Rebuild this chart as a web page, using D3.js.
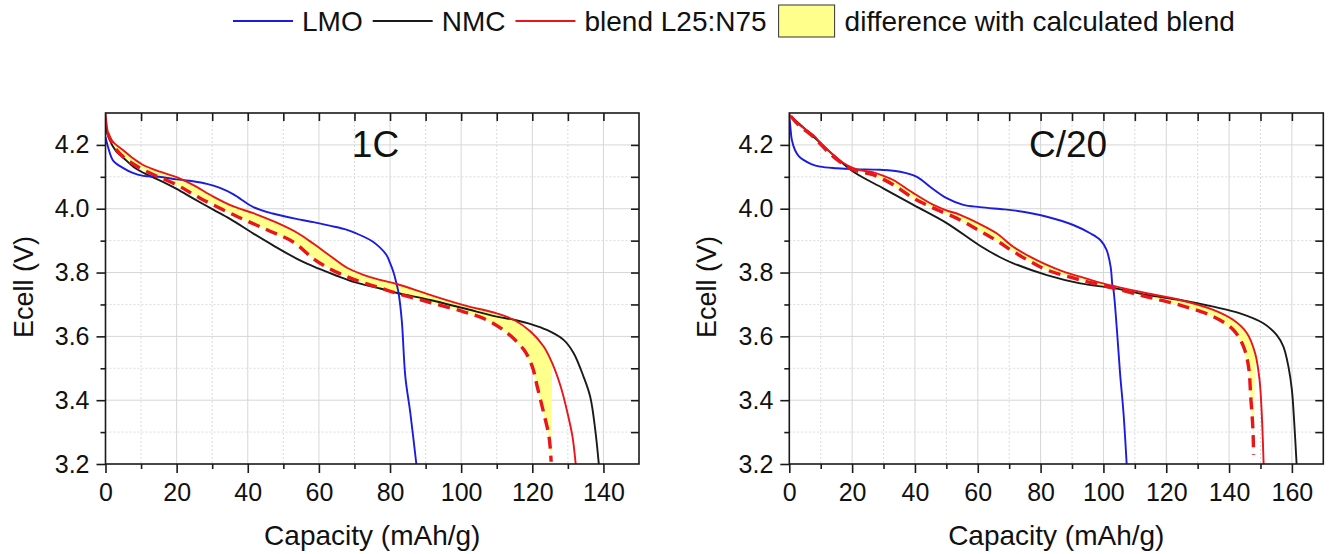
<!DOCTYPE html>
<html>
<head>
<meta charset="utf-8">
<script src="https://cdn.jsdelivr.net/npm/d3@7"></script>
<style>
  body { margin: 0; background: #fff; }
  svg { font-family: "Liberation Sans", Arial, sans-serif; }
</style>
</head>
<body>
<div id="chart"></div>
<script>
/* Discharge curves LMO / NMC / blend, 1C and C/20 */

// ---- data: [capacity (mAh/g), Ecell (V)] ----
const lmo1C = [[0,4.225],[0.8,4.19],[2.2,4.15],[4.9,4.128],[7.5,4.113],[10.6,4.103],[15,4.1],[20,4.092],[24.6,4.086],[28.5,4.078],[32,4.066],[36,4.045],[41.6,4.005],[47,3.985],[54.7,3.966],[58.5,3.958],[63,3.947],[67.9,3.934],[72.5,3.913],[75,3.898],[77.2,3.878],[79,3.855],[80,3.83],[81,3.8],[81.6,3.775],[82.4,3.736],[83.3,3.65],[84.3,3.474],[85.7,3.36],[87.4,3.2]];
const nmc1C = [[0,4.26],[1,4.22],[3,4.18],[5,4.16],[8,4.13],[12,4.105],[16,4.085],[20,4.062],[25,4.03],[30.3,3.997],[35,3.968],[41.6,3.922],[47,3.886],[54.7,3.838],[60,3.812],[65,3.79],[70,3.77],[77.2,3.75],[82,3.736],[91.3,3.714],[100.7,3.688],[110,3.662],[114.8,3.652],[120,3.637],[124.1,3.62],[128.8,3.589],[131.6,3.548],[134.4,3.474],[136.3,3.41],[137.7,3.307],[138.7,3.2]];
const blend1C = [[0,4.3],[0.5,4.25],[1,4.226],[2.5,4.205],[4.9,4.184],[7.5,4.16],[10.6,4.137],[15.3,4.116],[20,4.099],[24.6,4.075],[30.3,4.038],[36,4.007],[41.6,3.986],[48,3.957],[54,3.924],[58.5,3.89],[63.2,3.852],[67.9,3.815],[72.5,3.793],[77.2,3.777],[81.9,3.764],[91.3,3.73],[100.7,3.698],[110,3.672],[114.8,3.652],[119.5,3.615],[123.2,3.568],[125.6,3.516],[128,3.442],[129.9,3.36],[131.3,3.286],[132.2,3.2]];
const calc1C = [[0.5,4.24],[2.7,4.19],[5.5,4.158],[10.6,4.122],[20,4.075],[26.6,4.033],[36,3.981],[45.4,3.934],[52.9,3.895],[58.5,3.843],[63,3.812],[67.9,3.787],[72.5,3.768],[77.2,3.752],[81.9,3.735],[91.3,3.706],[100.7,3.677],[107.3,3.651],[113,3.61],[117.7,3.557],[120,3.505],[121.4,3.442],[123.2,3.36],[124.7,3.286],[125.3,3.207]];

const lmoC20 = [[0,4.294],[0.4,4.25],[0.8,4.216],[1.8,4.184],[3,4.165],[4.5,4.153],[7,4.14],[9.8,4.132],[15.1,4.127],[20.4,4.124],[28.9,4.122],[35.3,4.116],[40.6,4.1],[44.8,4.069],[50.1,4.033],[55.4,4.012],[60.7,4.005],[67.1,3.999],[71.3,3.995],[82,3.975],[90.4,3.949],[95.8,3.923],[99,3.902],[101,3.871],[102.3,3.818],[102.9,3.756],[103.2,3.745],[104.3,3.62],[105.3,3.484],[106.4,3.359],[107.4,3.2]];
const nmcC20 = [[0,4.294],[5,4.25],[10,4.205],[15,4.16],[20.4,4.116],[29.9,4.064],[39.5,4.012],[50.1,3.955],[60.7,3.884],[67.1,3.848],[71.3,3.829],[82,3.792],[92.6,3.766],[103.2,3.751],[113.8,3.73],[124.4,3.714],[135,3.693],[143.5,3.672],[150.9,3.641],[155.2,3.604],[157.3,3.568],[158.9,3.505],[160,3.432],[160.7,3.338],[161.5,3.2]];
const blendC20 = [[0,4.294],[3,4.265],[7.6,4.231],[11,4.195],[14,4.169],[17,4.145],[20.4,4.127],[23,4.12],[26.8,4.114],[30,4.103],[33.1,4.09],[39.5,4.049],[45.9,4.012],[50,3.995],[54.4,3.981],[60.7,3.952],[66,3.923],[71.3,3.881],[76.6,3.85],[82,3.824],[87.3,3.803],[92.6,3.787],[97.9,3.771],[103.2,3.758],[113.8,3.735],[124.4,3.714],[135,3.683],[141.4,3.651],[145.7,3.61],[148.3,3.547],[149.7,3.464],[150.4,3.359],[151,3.2]];
const calcC20 = [[0.5,4.29],[3,4.262],[7.6,4.226],[14,4.163],[20.4,4.122],[26.8,4.106],[33.1,4.075],[39.5,4.033],[45.9,4.002],[54.4,3.965],[60.7,3.93],[66,3.9],[71.3,3.866],[76.6,3.835],[82,3.808],[92.6,3.777],[103.2,3.751],[113.8,3.724],[124.4,3.698],[135,3.662],[141.4,3.62],[144.6,3.568],[146.2,3.505],[146.9,3.41],[147.6,3.307],[147.8,3.228]];

const yMajor = [3.2, 3.4, 3.6, 3.8, 4.0, 4.2];
const yMinor = [3.3, 3.5, 3.7, 3.9, 4.1];
const xMajor1C = [0, 20, 40, 60, 80, 100, 120, 140];
const xMinor1C = [10, 30, 50, 70, 90, 110, 130, 150];
const xMajorC20 = [0, 20, 40, 60, 80, 100, 120, 140, 160];
const xMinorC20 = [10, 30, 50, 70, 90, 110, 130, 150, 170];

const legendItems = ["LMO", "NMC", "blend L25:N75", "difference with calculated blend"];

const colors = {lmo: "#1c1ce0", nmc: "#1a1a1a", blend: "#e8151b", fill: "#ffff8c"};

const width = 1331, height = 554;
const plotTop = 113, plotBottom = 464;

let svg = d3.select("#chart")
    .append("svg")
    .attr("width", width)
    .attr("height", height)
    .attr("viewBox", [0, 0, width, height]);

function drawPanel(cfg) {
    let x = d3.scaleLinear().domain(cfg.xDomain).range(cfg.xRange);
    let y = d3.scaleLinear().domain([3.2, 4.3]).range([plotBottom, plotTop]);
    let g = svg.append("g");

    // grid
    g.append("g").selectAll("line")
        .data(cfg.xMajor.slice(1)).join("line")
        .attr("x1", d => x(d)).attr("x2", d => x(d))
        .attr("y1", plotTop).attr("y2", plotBottom)
        .attr("stroke", "#d6d6d6").attr("stroke-width", 1);
    g.append("g").selectAll("line")
        .data(cfg.xMinor.filter(d => d < cfg.xDomain[1])).join("line")
        .attr("x1", d => x(d)).attr("x2", d => x(d))
        .attr("y1", plotTop).attr("y2", plotBottom)
        .attr("stroke", "#dcdcdc").attr("stroke-width", 1).attr("stroke-dasharray", "2,2");
    g.append("g").selectAll("line")
        .data(yMajor.slice(1)).join("line")
        .attr("x1", cfg.xRange[0]).attr("x2", cfg.xRange[1])
        .attr("y1", d => y(d)).attr("y2", d => y(d))
        .attr("stroke", "#d6d6d6").attr("stroke-width", 1);
    g.append("g").selectAll("line")
        .data(yMinor).join("line")
        .attr("x1", cfg.xRange[0]).attr("x2", cfg.xRange[1])
        .attr("y1", d => y(d)).attr("y2", d => y(d))
        .attr("stroke", "#dcdcdc").attr("stroke-width", 1).attr("stroke-dasharray", "2,2");

    // clip to the plot frame
    const clipId = "clip" + cfg.id;
    svg.append("clipPath").attr("id", clipId)
        .append("rect")
        .attr("x", cfg.xRange[0]).attr("y", plotTop)
        .attr("width", cfg.xRange[1] - cfg.xRange[0]).attr("height", plotBottom - plotTop);
    let plot = g.append("g").attr("clip-path", `url(#${clipId})`);

    // yellow difference: measured blend down to end of calculated, back along calculated
    const lastX = cfg.calc[cfg.calc.length - 1][0];
    const poly = cfg.blend.filter(d => d[0] <= lastX + 0.5).concat(cfg.calc.slice().reverse());
    plot.append("path")
        .datum(poly)
        .attr("fill", colors.fill)
        .attr("stroke", "none")
        .attr("d", d3.line().x(d => x(d[0])).y(d => y(d[1])).curve(d3.curveLinearClosed));

    const line = d3.line().x(d => x(d[0])).y(d => y(d[1])).curve(d3.curveCatmullRom.alpha(0.5));

    plot.append("path").datum(cfg.nmc)
        .attr("fill", "none").attr("stroke", colors.nmc).attr("stroke-width", 1.9).attr("d", line);
    plot.append("path").datum(cfg.lmo)
        .attr("fill", "none").attr("stroke", colors.lmo).attr("stroke-width", 1.9).attr("d", line);
    plot.append("path").datum(cfg.blend)
        .attr("fill", "none").attr("stroke", colors.blend).attr("stroke-width", 1.9).attr("d", line);
    plot.append("path").datum(cfg.calc)
        .attr("fill", "none").attr("stroke", colors.blend).attr("stroke-width", 3.4)
        .attr("stroke-dasharray", "12,7").attr("d", line);

    // frame
    g.append("rect")
        .attr("x", cfg.xRange[0]).attr("y", plotTop)
        .attr("width", cfg.xRange[1] - cfg.xRange[0]).attr("height", plotBottom - plotTop)
        .attr("fill", "none").attr("stroke", "#1a1a1a").attr("stroke-width", 1.6);

    // axes (major + minor, mirrored inward on top and right)
    const axisStyle = a => a.call(s => s.select(".domain").remove())
        .call(s => s.selectAll(".tick line").attr("stroke", "#1a1a1a").attr("stroke-width", 1.6));

    g.append("g").attr("transform", `translate(0,${plotBottom})`)
        .call(d3.axisBottom(x).tickValues(cfg.xMajor).tickSize(9).tickPadding(10).tickFormat(d3.format("d")))
        .call(axisStyle)
        .call(s => s.selectAll("text").attr("font-size", 25).attr("fill", "#111")
            .attr("font-family", "Liberation Sans, Arial, sans-serif"));
    g.append("g").attr("transform", `translate(0,${plotBottom})`)
        .call(d3.axisBottom(x).tickValues(cfg.xMinor.filter(d => d < cfg.xDomain[1])).tickSize(5).tickFormat(""))
        .call(axisStyle);
    g.append("g").attr("transform", `translate(0,${plotTop})`)
        .call(d3.axisTop(x).tickValues(cfg.xMajor.concat(cfg.xMinor).filter(d => d > 0 && d < cfg.xDomain[1])).tickSize(-8).tickFormat(""))
        .call(axisStyle);

    g.append("g").attr("transform", `translate(${cfg.xRange[0]},0)`)
        .call(d3.axisLeft(y).tickValues(yMajor).tickSize(9).tickPadding(7).tickFormat(d3.format(".1f")))
        .call(axisStyle)
        .call(s => s.selectAll("text").attr("font-size", 25).attr("fill", "#111")
            .attr("font-family", "Liberation Sans, Arial, sans-serif"));
    g.append("g").attr("transform", `translate(${cfg.xRange[0]},0)`)
        .call(d3.axisLeft(y).tickValues(yMinor).tickSize(5).tickFormat(""))
        .call(axisStyle);
    g.append("g").attr("transform", `translate(${cfg.xRange[1]},0)`)
        .call(d3.axisRight(y).tickValues(yMajor.concat(yMinor).filter(d => d > 3.2)).tickSize(-8).tickFormat(""))
        .call(axisStyle);

    // titles
    g.append("text")
        .attr("x", (cfg.xRange[0] + cfg.xRange[1]) / 2).attr("y", 545)
        .attr("text-anchor", "middle").attr("font-size", 28).attr("fill", "#111")
        .text("Capacity (mAh/g)");
    g.append("text")
        .attr("transform", `translate(${cfg.xRange[0] - 73},287) rotate(-90)`)
        .attr("text-anchor", "middle").attr("font-size", 27).attr("fill", "#111")
        .text("Ecell (V)");
    g.append("text")
        .attr("x", cfg.titleX).attr("y", 157)
        .attr("text-anchor", "middle").attr("font-size", 37).attr("fill", "#111")
        .text(cfg.title);
}

drawPanel({id: "a", title: "1C", titleX: 375.5, xDomain: [0, 150], xRange: [105.5, 639],
    xMajor: xMajor1C, xMinor: xMinor1C, lmo: lmo1C, nmc: nmc1C, blend: blend1C, calc: calc1C});
drawPanel({id: "b", title: "C/20", titleX: 1068, xDomain: [0, 170], xRange: [789.3, 1323.3],
    xMajor: xMajorC20, xMinor: xMinorC20, lmo: lmoC20, nmc: nmcC20, blend: blendC20, calc: calcC20});

// legend
let legend = svg.append("g").attr("font-size", 28).attr("fill", "#111");
let lx = 233;
const legendColors = [colors.lmo, colors.nmc, colors.blend, null];
legendItems.forEach((label, i) => {
    if (legendColors[i]) {
        legend.append("line")
            .attr("x1", lx).attr("x2", lx + 60).attr("y1", 21).attr("y2", 21)
            .attr("stroke", legendColors[i]).attr("stroke-width", 1.9);
        lx += 69;
    } else {
        legend.append("rect")
            .attr("x", lx + 2).attr("y", 5).attr("width", 56).attr("height", 32)
            .attr("fill", colors.fill).attr("stroke", "#333").attr("stroke-width", 1);
        lx += 68;
    }
    let t = legend.append("text").attr("x", lx).attr("y", 31).text(label);
    lx += t.node().getComputedTextLength() + 10;
});
</script>
</body>
</html>
